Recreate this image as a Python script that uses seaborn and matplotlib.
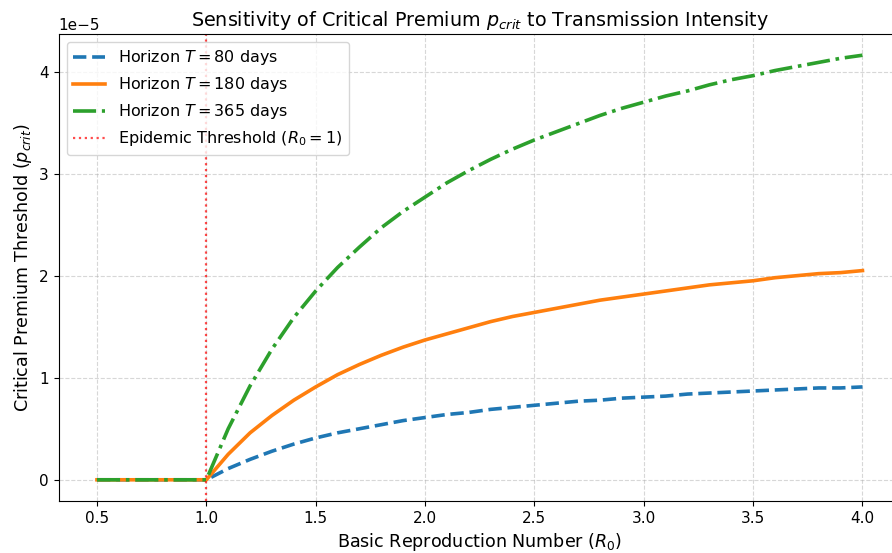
import matplotlib
matplotlib.use("Agg")
import matplotlib.pyplot as plt
import numpy as np
import pandas as pd
import seaborn as sns

# R0 grid and critical premium values (units of 1e-5)
r0 = [0.5, 0.6, 0.7, 0.8, 0.9, 1.0, 1.1, 1.2, 1.3, 1.4, 1.5, 1.6, 1.7, 1.8, 1.9,
      2.0, 2.1, 2.2, 2.3, 2.4, 2.5, 2.6, 2.7, 2.8, 2.9, 3.0, 3.1, 3.2, 3.3, 3.4,
      3.5, 3.6, 3.7, 3.8, 3.9, 4.0]
p_80 = [0, 0, 0, 0, 0, 0, 0.11, 0.20, 0.28, 0.35, 0.41, 0.46, 0.50, 0.54, 0.58,
        0.61, 0.64, 0.66, 0.69, 0.71, 0.73, 0.75, 0.77, 0.78, 0.80, 0.81, 0.82,
        0.84, 0.85, 0.86, 0.87, 0.88, 0.89, 0.90, 0.90, 0.91]
p_180 = [0, 0, 0, 0, 0, 0, 0.25, 0.46, 0.63, 0.78, 0.91, 1.03, 1.13, 1.22, 1.30,
         1.37, 1.43, 1.49, 1.55, 1.60, 1.64, 1.68, 1.72, 1.76, 1.79, 1.82, 1.85,
         1.88, 1.91, 1.93, 1.95, 1.98, 2.00, 2.02, 2.03, 2.05]
p_365 = [0, 0, 0, 0, 0, 0, 0.50, 0.92, 1.28, 1.59, 1.85, 2.08, 2.28, 2.47, 2.63,
         2.77, 2.91, 3.03, 3.14, 3.24, 3.33, 3.41, 3.49, 3.57, 3.64, 3.70, 3.76,
         3.81, 3.87, 3.92, 3.96, 4.01, 4.05, 4.09, 4.13, 4.16]
horizons = [80, 180, 365]
threshold = 1.0

series = [p_80, p_180, p_365]
colors = ["#1f77b4", "#ff7f0e", "#2ca02c"]
styles = ["--", "-", "-."]

fig = plt.figure(figsize=(8.92, 5.53), dpi=100)
ax = fig.add_axes([0.0658, 0.094, 0.944, 0.8445])

for T, vals, c, ls in zip(horizons, series, colors, styles):
    df = pd.DataFrame({"R0": r0, "p": np.array(vals) * 1e-5})
    sns.lineplot(data=df, x="R0", y="p", ax=ax, color=c, linestyle=ls,
                 linewidth=2.6, label=f"Horizon $T = {T}$ days")

ax.axvline(threshold, color="red", linestyle=":", linewidth=1.6, alpha=0.7,
           label="Epidemic Threshold ($R_0 = 1$)")

ax.set_title("Sensitivity of Critical Premium $p_{crit}$ to Transmission Intensity",
             fontsize=13.8)
ax.set_xlabel("Basic Reproduction Number ($R_0$)", fontsize=12.6)
ax.set_ylabel("Critical Premium Threshold ($p_{crit}$)", fontsize=12.6)
ax.tick_params(labelsize=11)
ax.yaxis.get_offset_text().set_fontsize(11)
ax.grid(True, linestyle="--", alpha=0.5)
ax.legend(loc="upper left", fontsize=11.5)

fig.savefig("out.png", dpi=100)
